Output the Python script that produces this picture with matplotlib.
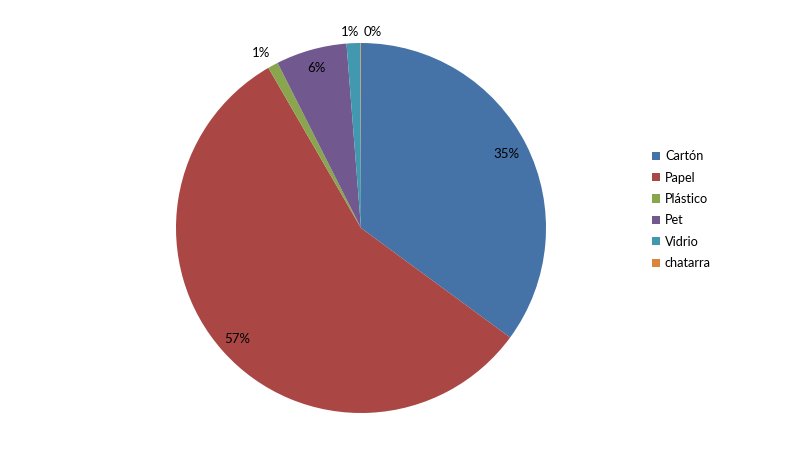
import numpy as np
from matplotlib import pyplot as plt

labels = ['Cartón', 'Papel', 'Plástico', 'Pet', 'Vidrio', 'chatarra']
values = [35.1, 56.6, 0.9, 6.2, 1.2, 0.05]
colors = ['#4572A7', '#AA4643', '#89A54E', '#71588F', '#4198AF', '#DB843D']
# radial distance of each percent label (fraction of radius)
label_dist = [0.88, 0.90, 1.09, 0.90, 1.06, 1.06]
label_shift = [0, 0, 1.4, 0, 0.8, -3.5]  # degrees, to keep tiny labels apart

plt.rcParams['font.family'] = ['Lato', 'DejaVu Sans']

fig = plt.figure(figsize=(7.97, 4.57), dpi=100)
ax = fig.add_axes([176/797, 44/457, 370/797, 370/457])

wedges, _ = ax.pie(values, colors=colors, startangle=90, counterclock=False,
				   radius=1.0, wedgeprops=dict(linewidth=0))

total = sum(values)
for i, w in enumerate(wedges):
	ang = np.deg2rad((w.theta1 + w.theta2) / 2 + label_shift[i])
	r = label_dist[i]
	pct = '%d%%' % round(values[i] / total * 100)
	ax.text(r*np.cos(ang), r*np.sin(ang), pct, ha='center', va='center',
			fontsize=9.5, color='black')

ax.set_xlim(-1, 1)
ax.set_ylim(-1, 1)
ax.set_aspect('auto')
ax.axis('off')

fig.legend(wedges, labels, loc='upper left', bbox_to_anchor=(647/797, 1-145/457),
		   frameon=False, fontsize=9.2, handlelength=0.6, handleheight=0.6,
		   handletextpad=0.4, labelspacing=0.74, borderaxespad=0)

fig.savefig('out.png', dpi=100)
